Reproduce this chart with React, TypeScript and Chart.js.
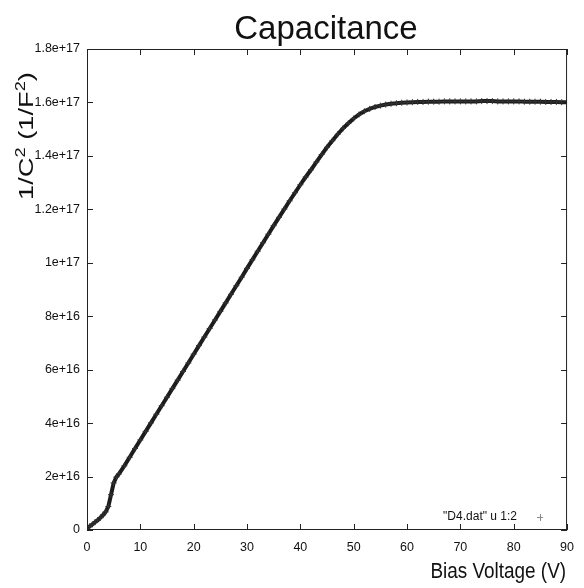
import { useEffect, useRef } from 'react';
import { Chart, registerables } from 'chart.js';
Chart.register(...registerables);

// Bias voltage (V)
const voltage = [
  0, 0.5, 1, 1.5, 2, 2.5, 3, 3.5, 4, 4.5, 5, 5.5, 6,
  7, 8, 9, 10, 11, 12, 13, 14, 15, 16, 17, 18, 19, 20,
  21, 22, 23, 24, 25, 26, 27, 28, 29, 30, 31, 32, 33, 34, 35,
  36, 37, 38, 39, 40, 41, 42, 43, 44, 45, 46, 47, 48, 49, 50,
  51, 52, 53, 54, 55, 56, 57, 58, 59, 60, 61, 62, 63, 64, 65,
  66, 67, 68, 69, 70, 71, 72, 73, 74, 75, 76, 77, 78, 79, 80,
  81, 82, 83, 84, 85, 86, 87, 88, 89, 90,
];
// 1/C^2 in units of 1e16 F^-2
const invC2e16 = [
  0.05, 0.14, 0.21, 0.29, 0.37, 0.46, 0.56, 0.68, 0.88, 1.32, 1.76, 1.98, 2.1,
  2.4, 2.72, 3.05, 3.37, 3.69, 4.01, 4.33, 4.65, 4.97, 5.29, 5.61, 5.93, 6.25, 6.58,
  6.9, 7.22, 7.54, 7.86, 8.18, 8.5, 8.82, 9.14, 9.46, 9.79, 10.11, 10.43, 10.75, 11.07, 11.39,
  11.7, 12.01, 12.32, 12.62, 12.92, 13.21, 13.48, 13.77, 14.05, 14.32, 14.57, 14.81, 15.03, 15.22, 15.4,
  15.55, 15.67, 15.76, 15.83, 15.88, 15.92, 15.95, 15.97, 15.99, 16.0, 16.01, 16.02, 16.02, 16.03, 16.03,
  16.03, 16.04, 16.04, 16.04, 16.04, 16.04, 16.04, 16.04, 16.05, 16.05, 16.05, 16.04, 16.04, 16.04, 16.04,
  16.04, 16.03, 16.03, 16.03, 16.03, 16.02, 16.02, 16.02, 16.01, 16.01,
];
const xTickValues = [0, 10, 20, 30, 40, 50, 60, 70, 80, 90];
const yTickValues = [0, 2e16, 4e16, 6e16, 8e16, 1e17, 1.2e17, 1.4e17, 1.6e17, 1.8e17];

const chartTitle = 'Capacitance';
const xTitle = 'Bias Voltage (V)';
const legendLabel = '"D4.dat" u 1:2';

const FONT = "'Liberation Sans', Arial, Helvetica, sans-serif";

function fmtY(v: number): string {
  if (Math.abs(v) < 1e10) return '0';
  return Number(v.toPrecision(3)).toExponential();
}

const decor = {
  id: 'decor',
  afterDraw(chart: any) {
    const { ctx, chartArea } = chart;
    const { left, right, top, bottom } = chartArea;
    const xs = chart.scales.x;
    const ys = chart.scales.y;
    ctx.save();
    // frame
    ctx.strokeStyle = '#222';
    ctx.lineWidth = 1;
    ctx.strokeRect(left + 0.5, top + 0.5, right - left - 1, bottom - top - 1);
    // inward ticks
    ctx.beginPath();
    const tl = 6;
    xTickValues.forEach((v) => {
      const px = Math.round(xs.getPixelForValue(v)) + 0.5;
      ctx.moveTo(px, bottom);
      ctx.lineTo(px, bottom - tl);
      ctx.moveTo(px, top);
      ctx.lineTo(px, top + tl);
    });
    yTickValues.forEach((v) => {
      const py = Math.round(ys.getPixelForValue(v)) + 0.5;
      ctx.moveTo(left, py);
      ctx.lineTo(left + tl, py);
      ctx.moveTo(right, py);
      ctx.lineTo(right - tl, py);
    });
    ctx.stroke();

    ctx.fillStyle = '#111';
    // title
    ctx.font = `33px ${FONT}`;
    ctx.textAlign = 'center';
    ctx.textBaseline = 'alphabetic';
    ctx.fillText(chartTitle, 326, 39);

    // x title
    ctx.save();
    ctx.translate(right - 1, 578);
    ctx.scale(0.86, 1);
    ctx.font = `22px ${FONT}`;
    ctx.textAlign = 'right';
    ctx.fillText(xTitle, 0, 0);
    ctx.restore();

    // y title (rotated) with superscripts
    ctx.save();
    ctx.translate(33, 200);
    ctx.rotate(-Math.PI / 2);
    ctx.scale(1.3, 1);
    ctx.textAlign = 'left';
    const parts: [string, boolean][] = [
      ['1/C', false], ['2', true], [' (1/F', false], ['2', true], [')', false],
    ];
    let cx = 0;
    parts.forEach(([t, sup]) => {
      ctx.font = sup ? `14px ${FONT}` : `21px ${FONT}`;
      ctx.fillText(t, cx, sup ? -8 : 0);
      cx += ctx.measureText(t).width;
    });
    ctx.restore();

    // legend
    ctx.font = `12px ${FONT}`;
    ctx.textAlign = 'right';
    ctx.textBaseline = 'middle';
    ctx.fillStyle = '#111';
    ctx.fillText(legendLabel, 517, 517);
    ctx.strokeStyle = '#888';
    ctx.beginPath();
    ctx.moveTo(537, 517.5);
    ctx.lineTo(543, 517.5);
    ctx.moveTo(540.5, 514);
    ctx.lineTo(540.5, 521);
    ctx.stroke();
    ctx.restore();
  },
};

export default function App() {
  const ref = useRef<HTMLCanvasElement>(null);
  useEffect(() => {
    document.body.style.margin = '0';
    const data = voltage.map((v, i) => ({ x: v, y: invC2e16[i] * 1e16 }));
    const chart = new Chart(ref.current!, {
      type: 'scatter',
      data: {
        datasets: [
          {
            label: legendLabel,
            data,
            showLine: true,
            borderColor: '#1c1c1c',
            borderWidth: 4,
            pointStyle: 'cross',
            pointRadius: 3,
            pointBorderWidth: 1,
            pointBorderColor: '#333',
            pointBackgroundColor: '#333',
            tension: 0,
          },
        ],
      },
      options: {
        animation: false,
        responsive: true,
        maintainAspectRatio: false,
        layout: { padding: { top: 49, right: 15, bottom: 0, left: 0 } },
        plugins: { legend: { display: false }, title: { display: false }, tooltip: { enabled: false } },
        scales: {
          x: {
            type: 'linear',
            min: 0,
            max: 90,
            afterFit: (s: any) => { s.height = 58; },
            afterBuildTicks: (s: any) => { s.ticks = xTickValues.map((v) => ({ value: v })); },
            grid: { display: false, drawTicks: false },
            border: { display: false },
            ticks: { color: '#111', font: { family: FONT, size: 12.5 }, padding: 10, maxRotation: 0, autoSkip: false },
          },
          y: {
            type: 'linear',
            min: 0,
            max: 1.8e17,
            afterFit: (s: any) => { s.width = 87; },
            afterBuildTicks: (s: any) => { s.ticks = yTickValues.map((v) => ({ value: v })); },
            grid: { display: false, drawTicks: false },
            border: { display: false },
            ticks: {
              color: '#111',
              font: { family: FONT, size: 12.5 },
              padding: 7,
              autoSkip: false,
              callback: (v: any) => fmtY(Number(v)),
            },
          },
        },
      },
      plugins: [decor],
    });
    return () => chart.destroy();
  }, []);
  return (
    <div style={{ width: 584, height: 588, position: 'relative' }}>
      <canvas ref={ref} />
    </div>
  );
}
